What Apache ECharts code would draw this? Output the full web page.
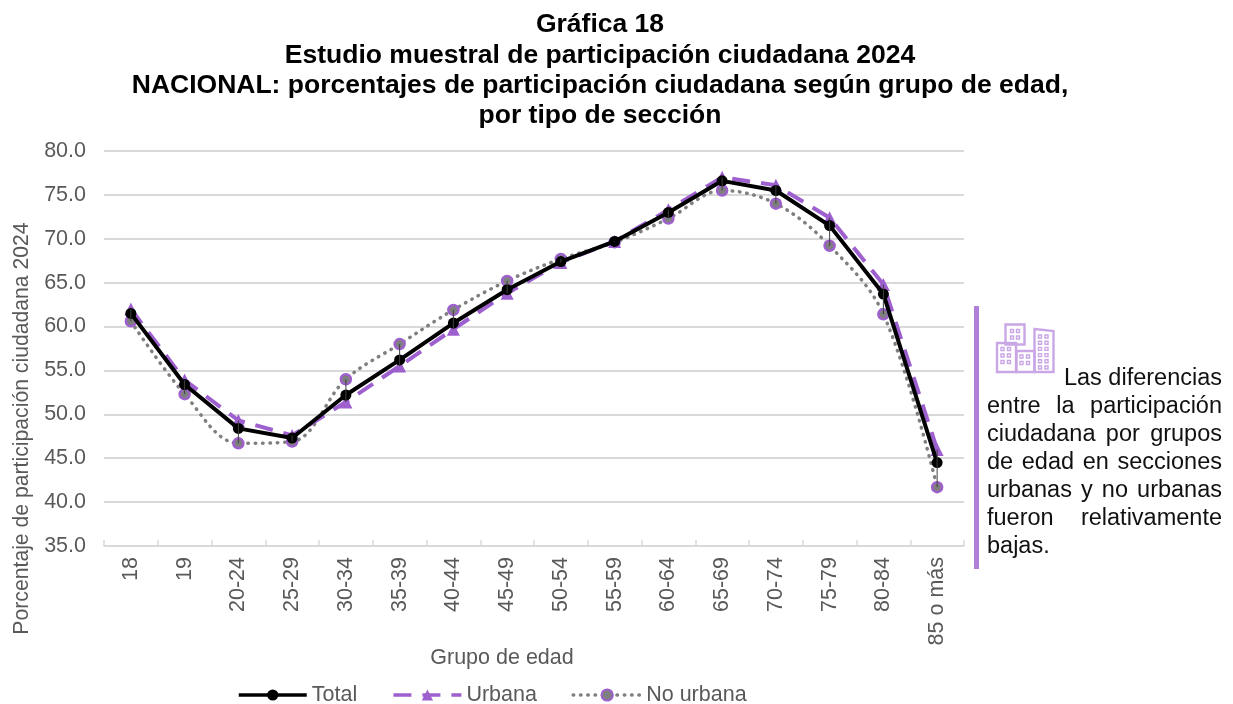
<!DOCTYPE html>
<html><head><meta charset="utf-8">
<style>html,body{margin:0;padding:0;background:#fff}#c{width:1233px;height:704px}</style>
<script src="https://cdn.jsdelivr.net/npm/echarts@6/dist/echarts.min.js"></script>
</head><body><div id="c"></div>
<script>
const categories=['18','19','20-24','25-29','30-34','35-39','40-44','45-49','50-54','55-59','60-64','65-69','70-74','75-79','80-84','85 o más'];
const total=[61.5,53.4,48.4,47.3,52.2,56.2,60.4,64.2,67.4,69.7,73.0,76.6,75.5,71.5,63.7,44.5];
const urbana=[62.0,53.9,49.3,47.6,51.4,55.5,59.7,63.8,67.3,69.7,73.3,77.0,76.1,72.4,64.8,46.0];
const noUrbana=[60.6,52.3,46.7,46.9,54.0,58.0,61.9,65.2,67.7,69.6,72.3,75.5,74.0,69.2,61.4,41.7];
const titleLines=['Gráfica 18','Estudio muestral de participación ciudadana 2024','NACIONAL: porcentajes de participación ciudadana según grupo de edad,','por tipo de sección'];
const noteLines=['Las diferencias','entre la participación','ciudadana por grupos','de edad en secciones','urbanas y no urbanas','fueron relativamente','bajas.'];

const FONT='"Liberation Sans",Arial,sans-serif';
const PURPLE='#9E5FCF', SIDE='#B07FD8', ICON='#C9A6E6', GREY='#595959';
const chart=echarts.init(document.getElementById('c'));

const g=[];
titleLines.forEach((t,i)=>g.push({type:'text',x:600,y:25+i*30.3,style:{text:t,font:'bold 26.5px '+FONT,fill:'#000',align:'center',verticalAlign:'middle'}}));
g.push({type:'rect',shape:{x:974,y:306,width:5,height:263},style:{fill:SIDE}});

const mc=document.createElement('canvas').getContext('2d');
const NF='23.5px '+FONT; mc.font=NF;
const L=987,R=1222;
noteLines.forEach((line,i)=>{
  const y=379+i*27.9, words=line.split(' ');
  const put=(t,x)=>g.push({type:'text',x,y,style:{text:t,font:NF,fill:'#111',align:'left',verticalAlign:'middle'}});
  if(i===0){put(line,R-mc.measureText(line).width);return;}
  if(i===noteLines.length-1){put(line,L);return;}
  const ws=words.map(w=>mc.measureText(w).width);
  const gap=(R-L-ws.reduce((a,b)=>a+b,0))/(words.length-1);
  let x=L; words.forEach((w,k)=>{put(w,x);x+=ws[k]+gap;});
});

const box=(x,y,w,h,lw)=>g.push({type:'rect',shape:{x,y,width:w,height:h},style:{fill:'none',stroke:ICON,lineWidth:lw}});
function bld(x,y,w,h,cols,rows,x0,y0,dx,dy){
  box(x,y,w,h,2.4);
  for(let r=0;r<rows;r++)for(let c=0;c<cols;c++)box(x0+c*dx,y0+r*dy,3,3,1.4);
}
bld(1005.5,324.5,19,20,2,2,1010.5,329.5,6,6.5);
bld(997,343,19,29,2,3,1001,347.5,6.5,6.5);
bld(1016.5,351,18,21,2,2,1020,355,6.5,6.5);
g.push({type:'polygon',shape:{points:[[1034.5,329],[1053.5,331],[1053.5,372],[1034.5,372]]},style:{fill:'none',stroke:ICON,lineWidth:2.4}});
for(let r=0;r<6;r++)for(let c=0;c<2;c++)box(1038.5+c*6.5,335+r*6.2,3,3,1.4);

const hiLo=categories.map((c,i)=>[i,Math.min(total[i],urbana[i],noUrbana[i]),Math.max(total[i],urbana[i],noUrbana[i])]);

chart.setOption({
  animation:false,
  textStyle:{fontFamily:FONT},
  grid:{left:104,right:269,top:151,bottom:158,containLabel:false},
  xAxis:{type:'category',data:categories,boundaryGap:true,
    name:'Grupo de edad',nameLocation:'middle',nameGap:101,nameMoveOverlap:false,
    nameTextStyle:{color:GREY,fontSize:21.5,fontFamily:FONT,padding:[0,64,0,0]},
    axisLine:{lineStyle:{color:'#D9D9D9',width:1.5}},
    axisTick:{show:true,inside:true,length:6,lineStyle:{color:'#D9D9D9',width:1.5}},
    axisLabel:{rotate:90,color:GREY,fontSize:21.5,margin:11,interval:0,fontFamily:FONT},
    splitLine:{show:false}},
  yAxis:{type:'value',min:35,max:80,interval:5,
    name:'Porcentaje de participación ciudadana 2024',nameLocation:'middle',nameGap:71,nameRotate:90,
    nameTextStyle:{color:GREY,fontSize:21.2,fontFamily:FONT,padding:[0,160,0,0]},
    axisLine:{show:false},axisTick:{show:false},
    axisLabel:{color:GREY,fontSize:21.5,margin:18,formatter:v=>v.toFixed(1),fontFamily:FONT},
    splitLine:{lineStyle:{color:'#D9D9D9',width:2}}},
  legend:{left:237,top:684,padding:0,itemWidth:68,itemHeight:14,itemGap:34.5,
    lineStyle:{width:3.5},
    textStyle:{color:GREY,fontSize:21.5,fontFamily:FONT},
    data:['Total','Urbana','No urbana']},
  series:[
    {name:'No urbana',type:'line',data:noUrbana,smooth:0.35,symbol:'circle',symbolSize:10,z:2,
      lineStyle:{color:'#7F7F7F',width:3.5,type:[0.5,6.8],cap:'round'},
      itemStyle:{color:'#7F7F7F',borderColor:PURPLE,borderWidth:2.5}},
    {name:'Urbana',type:'line',data:urbana,symbol:'triangle',symbolSize:13,z:3,
      lineStyle:{color:PURPLE,width:4,type:[18,11]},
      itemStyle:{color:PURPLE}},
    {name:'Total',type:'line',data:total,symbol:'circle',symbolSize:11,z:4,
      lineStyle:{color:'#000',width:4},
      itemStyle:{color:'#000'}},
    {name:'hilo',type:'custom',data:hiLo,silent:true,z:5,
      encode:{x:0,y:[1,2]},
      renderItem:(p,api)=>{
        const a=api.coord([api.value(0),api.value(1)]),b=api.coord([api.value(0),api.value(2)]);
        return {type:'line',shape:{x1:a[0],y1:a[1],x2:b[0],y2:b[1]},style:{stroke:'#404040',lineWidth:1}};
      }}
  ],
  graphic:{elements:g}
});
</script></body></html>
